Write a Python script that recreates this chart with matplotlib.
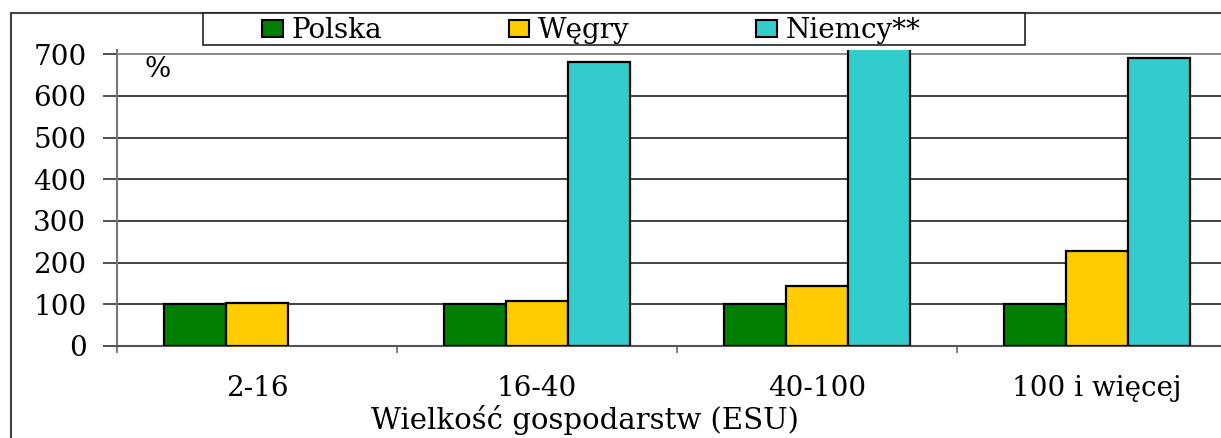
import matplotlib
matplotlib.use("Agg")
import matplotlib.pyplot as plt
from matplotlib.patches import Rectangle, Patch
import numpy as np

categories = ["2-16", "16-40", "40-100", "100 i więcej"]
polska = [100, 100, 100, 100]
wegry = [104, 108, 144, 228]
niemcy = [np.nan, 682, 740, 690]
series_names = ["Polska", "Węgry", "Niemcy**"]
colors = ["#007F00", "#FFCC00", "#33CCCC"]
yticks = [0, 100, 200, 300, 400, 500, 600, 700]
xlabel = "Wielkość gospodarstw (ESU)"

plt.rcParams['font.family'] = ['DejaVu Serif']

W, H = 1221, 438
fig = plt.figure(figsize=(W / 100, H / 100), dpi=100)

def fx(px):
    return px / W

def fy(py):
    return 1 - py / H

ax = fig.add_axes([fx(117), fy(346), fx(1237) - fx(117), fy(50) - fy(346)])

x = np.arange(len(categories)) + 0.5
w = 0.222
for i, (vals, name, c) in enumerate(zip([polska, wegry, niemcy], series_names, colors)):
    ax.bar(x + (i - 1) * w, vals, width=w, color=c, edgecolor="black",
           linewidth=1.6, label=name, zorder=3)

ax.set_xlim(0, len(categories))
ax.set_ylim(0, 710)
ax.set_yticks(yticks)
ax.set_yticklabels([str(v) for v in yticks], fontsize=20)
ax.set_xticks(np.arange(len(categories) + 1))
ax.set_xticklabels([])
ax.set_xticks(x, minor=True)
ax.set_xticklabels(categories, minor=True, fontsize=20)
ax.tick_params(axis="x", which="major", direction="out", length=5, width=1.2, color="#666666")
ax.tick_params(axis="x", which="minor", length=0, pad=21)
ax.tick_params(axis="y", direction="out", length=10, width=1.2, color="#333333", pad=12)

for v in yticks[1:]:
    ax.axhline(v, color="#777777" if v == 700 else "#222222", lw=1.2, zorder=1)

for s in ["top", "right"]:
    ax.spines[s].set_visible(False)
ax.spines["left"].set_color("#777777")
ax.spines["left"].set_linewidth(1.5)
ax.spines["bottom"].set_color("#555555")
ax.spines["bottom"].set_linewidth(1.5)

ax.text(fx(147) - fx(117), 0.98, "%", transform=ax.transAxes, fontsize=20,
        ha="left", va="top")

fig.text(fx(585), fy(420), xlabel, fontsize=21, ha="center", va="center")

# outer frame
fig.add_artist(Rectangle((fx(11), -0.1), 1.2, fy(13) + 0.1, transform=fig.transFigure,
                         fill=False, edgecolor="#444444", lw=1.5))

# legend box
fig.add_artist(Rectangle((fx(203), fy(45)), fx(1025) - fx(203), fy(13) - fy(45),
                         transform=fig.transFigure, facecolor="white",
                         edgecolor="#222222", lw=1.2, zorder=5))
handles = [Patch(facecolor=c, edgecolor="black", linewidth=1.5) for c in colors]
leg = fig.legend(handles, series_names, ncol=3, frameon=False,
                 loc="center left", bbox_to_anchor=(fx(248), fy(31)),
                 fontsize=20, handlelength=0.75, handleheight=0.55,
                 handletextpad=0.3, columnspacing=4.57, borderpad=0)
leg.set_zorder(6)

fig.savefig("out.png", dpi=100)
